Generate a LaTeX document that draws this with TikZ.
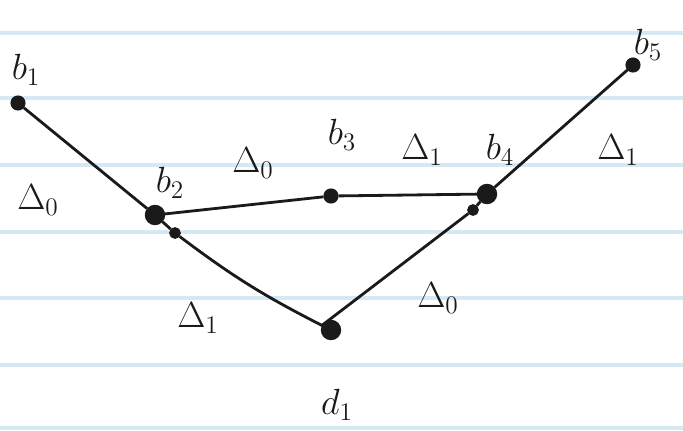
\documentclass[tikz,border=0pt]{standalone}
\usepackage{tikz}
\definecolor{ruleblue}{HTML}{D6E8F4}
\definecolor{pen}{HTML}{1A1A1A}

\begin{document}
\begin{tikzpicture}[x=0.02cm, y=-0.02cm, line width=1.6pt,
  vtx/.style={circle, draw=pen, fill=pen, inner sep=0pt, minimum size=7pt},
  bigvtx/.style={vtx, minimum size=10pt},
  tick/.style={circle, draw=pen, fill=pen, inner sep=0pt, minimum size=5pt},
  lbl/.style={text=pen, font=\fontsize{21}{25}\selectfont, inner sep=1pt}]
  \useasboundingbox (0,0) rectangle (683,430);
  % ruled paper
  \foreach \yy in {33, 98, 165, 232, 298, 365, 428}
    \draw[ruleblue, line width=1.8pt] (0,\yy) -- (683,\yy);
  % vertices
  \node[vtx] (b1) at (18,103) {};
  \node[bigvtx] (b2) at (155,215) {};
  \node[tick] (p2) at (175,233) {};
  \node[vtx] (b3) at (331,196) {};
  \node[bigvtx] (b4) at (487,194) {};
  \node[tick] (p4) at (473,210) {};
  \node[vtx] (b5) at (633,65) {};
  \node[bigvtx] (d1) at (331,330) {};
  % edges
  \draw[pen] (b1) -- (b2) -- (p2) to[bend right=5] (d1) -- (p4) -- (b4) -- (b5);
  \draw[pen] (b2) -- (b3) -- (b4);
  % vertex labels
  \node[lbl] (lb1) at (26,70) {$b_1$};
  \node[lbl] (lb2) at (170,183) {$b_2$};
  \node[lbl] (lb3) at (342,135) {$b_3$};
  \node[lbl] (lb4) at (500,150) {$b_4$};
  \node[lbl] (lb5) at (648,45) {$b_5$};
  \node[lbl] (ld1) at (337,405) {$d_1$};
  % region labels
  \node[lbl] (r1) at (38,200) {$\Delta_0$};
  \node[lbl] (r2) at (253,163) {$\Delta_0$};
  \node[lbl] (r3) at (422,150) {$\Delta_1$};
  \node[lbl] (r4) at (618,150) {$\Delta_1$};
  \node[lbl] (r5) at (198,318) {$\Delta_1$};
  \node[lbl] (r6) at (438,298) {$\Delta_0$};
\end{tikzpicture}
\end{document}
